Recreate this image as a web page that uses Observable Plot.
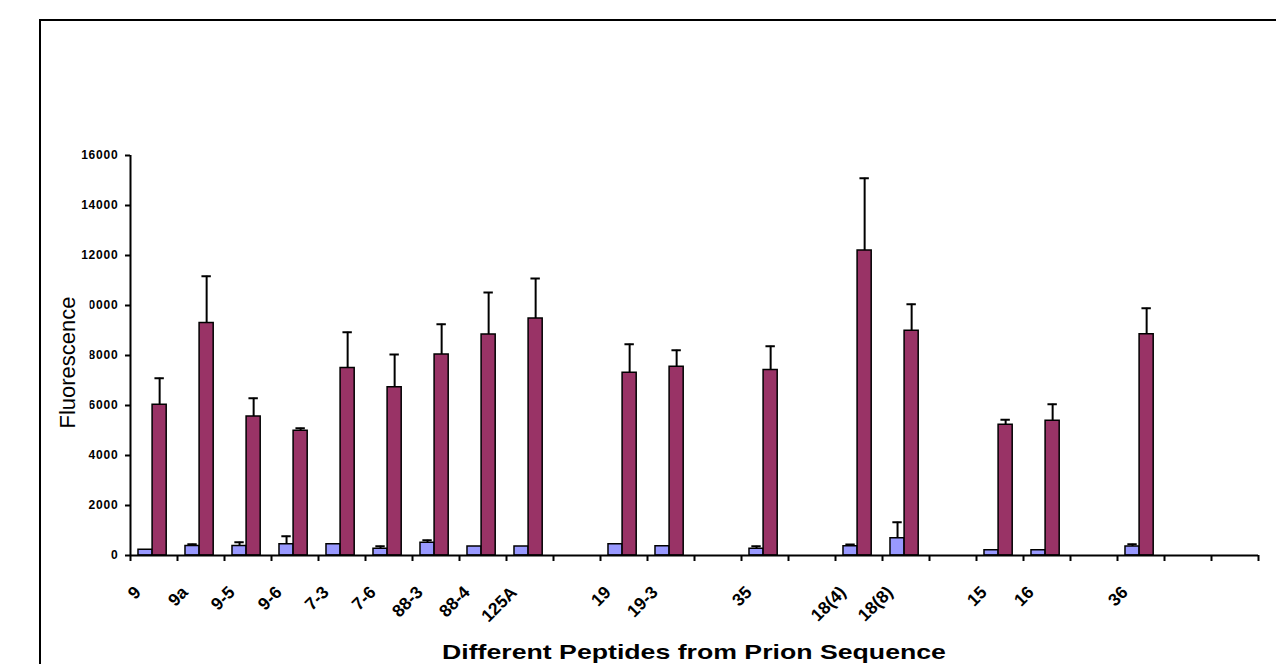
<!DOCTYPE html>
<html>
<head>
<meta charset="utf-8">
<script src="https://cdn.jsdelivr.net/npm/d3@7"></script>
<script src="https://cdn.jsdelivr.net/npm/@observablehq/plot@0.6"></script>
<style>
  html, body { margin: 0; padding: 0; background: #fff; overflow: hidden; width: 1276px; height: 664px; }
  #chart { position: absolute; left: 0; top: 0; }
  #frame { position: absolute; left: 39px; top: 19px; width: 1400px; height: 800px; border: 2px solid #000; box-sizing: border-box; pointer-events: none; }
  #xtitle { position: absolute; left: 694px; top: 641px; white-space: nowrap; font-family: "Liberation Sans", Arial, sans-serif; font-weight: bold; font-size: 21px; line-height: 21px; color: #000; transform: translateX(-50%) scaleX(1.27); }
  g[aria-label="y-axis tick label"] text { letter-spacing: 0.8px; }
</style>
</head>
<body>
<div id="chart"></div>
<div id="xtitle">Different Peptides from Prion Sequence</div>
<div id="frame"></div>
<script>
// Category labels (empty strings are unlabeled, empty categories)
const labels = ["9","9a","9-5","9-6","7-3","7-6","88-3","88-4","125A","","19","19-3","","35","","18(4)","18(8)","","15","16","","36","",""];
// Series 1 (light blue) means and upper error
const blueMean = [230, 380, 380, 450, 450, 270, 510, 360, 360, null, 450, 370, null, 270, null, 370, 690, null, 210, 210, null, 360, null, null];
const blueErr  = [0, 70, 150, 320, 0, 100, 100, 0, 0, null, 0, 0, null, 100, null, 70, 640, null, 0, 0, null, 90, null, null];
// Series 2 (dark red) means and upper error
const redMean = [6030, 9300, 5560, 4990, 7500, 6730, 8040, 8840, 9480, null, 7310, 7550, null, 7420, null, 12200, 8990, null, 5230, 5390, null, 8850, null, null];
const redErr  = [1060, 1870, 730, 100, 1430, 1310, 1210, 1680, 1600, null, 1140, 660, null, 950, null, 2890, 1060, null, 200, 660, null, 1040, null, null];
// Y-axis tick values
const yTicks = [0, 2000, 4000, 6000, 8000, 10000, 12000, 14000, 16000];
const yLabel = "Fluorescence";

const blueColor = "#9999FF";
const redColor = "#993366";

const idx = d3.range(labels.length);
const blue = idx.filter(i => blueMean[i] != null).map(i => ({i, v: blueMean[i], e: blueErr[i]}));
const red = idx.filter(i => redMean[i] != null).map(i => ({i, v: redMean[i], e: redErr[i]}));
const blueE = blue.filter(d => d.e > 0);
const redE = red.filter(d => d.e > 0);
const labeled = idx.filter(i => labels[i] !== "");

// bar placement within each category slot
const b0 = 0.17, b1 = 0.47, b2 = 0.77, cap = 0.1;

const font = "'Liberation Sans', Arial, sans-serif";

const chart = Plot.plot({
  width: 1276,
  height: 625,
  marginLeft: 130,
  marginRight: 18,
  marginTop: 155,
  marginBottom: 70,
  x: {type: "linear", domain: [0, labels.length]},
  y: {domain: [0, 16000]},
  style: {fontFamily: font, background: "transparent", overflow: "visible", color: "#000"},
  marks: [
    Plot.axisY({ticks: yTicks, tickFormat: d3.format("d"), tickSize: 5, tickPadding: 7, fontSize: 12, fontWeight: "bold", strokeWidth: 2, label: null}),
    Plot.axisX({ticks: d3.range(0, labels.length + 1), tickFormat: () => "", tickSize: 6, strokeWidth: 2, label: null}),
    Plot.rect(blue, {x1: d => d.i + b0, x2: d => d.i + b1, y1: 0, y2: d => d.v, fill: blueColor, stroke: "#000", strokeWidth: 1.5}),
    Plot.rect(red, {x1: d => d.i + b1, x2: d => d.i + b2, y1: 0, y2: d => d.v, fill: redColor, stroke: "#000", strokeWidth: 1.5}),
    Plot.ruleX(blueE, {x: d => d.i + (b0 + b1) / 2, y1: d => d.v, y2: d => d.v + d.e, stroke: "#000", strokeWidth: 2}),
    Plot.ruleY(blueE, {y: d => d.v + d.e, x1: d => d.i + (b0 + b1) / 2 - cap, x2: d => d.i + (b0 + b1) / 2 + cap, stroke: "#000", strokeWidth: 2}),
    Plot.ruleX(redE, {x: d => d.i + (b1 + b2) / 2, y1: d => d.v, y2: d => d.v + d.e, stroke: "#000", strokeWidth: 2}),
    Plot.ruleY(redE, {y: d => d.v + d.e, x1: d => d.i + (b1 + b2) / 2 - cap, x2: d => d.i + (b1 + b2) / 2 + cap, stroke: "#000", strokeWidth: 2}),
    Plot.ruleX([0], {x: d => d, y1: 0, y2: 16000, stroke: "#000", strokeWidth: 2}),
    Plot.ruleY([0], {y: d => d, x1: 0, x2: labels.length, stroke: "#000", strokeWidth: 2}),
    Plot.text(labeled, {x: i => i + 0.5, y: () => 0, text: i => labels[i], rotate: -45, textAnchor: "end", lineAnchor: "middle", dx: -16, dy: 34, fontSize: 17.5, fontWeight: "bold", fill: "#000"}),
    Plot.text([yLabel], {frameAnchor: "left", text: d => d, rotate: -90, textAnchor: "middle", lineAnchor: "middle", dx: -63, dy: 7, fontSize: 22, fill: "#000"})
  ]
});
document.getElementById("chart").appendChild(chart);

// white box behind the y-axis title (it covers part of the tick labels, as in the original)
const yt = Array.from(chart.querySelectorAll("text")).find(t => t.textContent === yLabel);
if (yt) {
  const g = yt.parentNode;
  const sr = chart.getBoundingClientRect();
  const r = yt.getBoundingClientRect();
  const rect = document.createElementNS("http://www.w3.org/2000/svg", "rect");
  rect.setAttribute("x", r.left - sr.left - 2);
  rect.setAttribute("y", r.top - sr.top - 4);
  rect.setAttribute("width", r.width + 12);
  rect.setAttribute("height", r.height + 8);
  rect.setAttribute("fill", "#fff");
  g.parentNode.insertBefore(rect, g);
}
</script>
</body>
</html>
